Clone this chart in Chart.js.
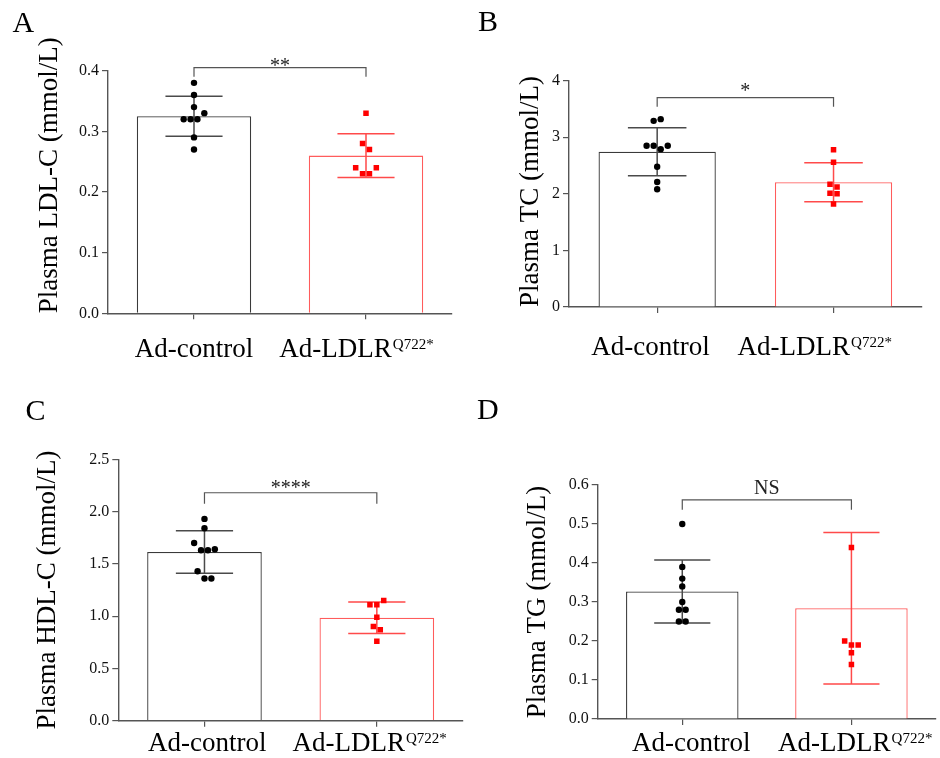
<!DOCTYPE html>
<html>
<head>
<meta charset="utf-8">
<script src="https://cdn.jsdelivr.net/npm/chart.js@4/dist/chart.umd.min.js"></script>
<style>
    body { margin: 0; background: #fff; }
    #wrap { position: relative; width: 940px; height: 758px; overflow: hidden; }
    #wrap canvas { position: absolute; }
</style>
</head>
<body>
<div id="wrap">
    <canvas id="cA" width="470" height="379" style="left:0;top:0"></canvas>
    <canvas id="cB" width="470" height="379" style="left:470px;top:0"></canvas>
    <canvas id="cC" width="470" height="379" style="left:0;top:379px"></canvas>
    <canvas id="cD" width="470" height="379" style="left:470px;top:379px"></canvas>
</div>
<script>
/* ================= DATA ================= */
const groups = ["Ad-control", "Ad-LDLR"];
const groupSup = ["", "Q722*"];

// A – LDL-C
const ldlCtrl = [0.38, 0.36, 0.34, 0.32, 0.32, 0.32, 0.33, 0.29, 0.27];
const ldlMut = [0.33, 0.28, 0.27, 0.24, 0.23, 0.23, 0.24];
const ldlMean = [0.325, 0.26];
const ldlSd = [0.033, 0.036];

// B – TC
const tcCtrl = [3.29, 3.32, 2.85, 2.85, 2.79, 2.85, 2.48, 2.21, 2.08];
const tcMut = [2.78, 2.56, 2.17, 2.12, 2.01, 2.0, 1.82];
const tcMean = [2.745, 2.205];
const tcSd = [0.425, 0.345];

// C – HDL-C
const hdlCtrl = [1.93, 1.84, 1.7, 1.63, 1.63, 1.64, 1.43, 1.36, 1.36];
const hdlMut = [1.11, 1.11, 1.15, 0.99, 0.9, 0.87, 0.76];
const hdlMean = [1.614, 0.985];
const hdlSd = [0.203, 0.15];

// D – TG
const tgCtrl = [0.5, 0.39, 0.36, 0.34, 0.3, 0.28, 0.28, 0.25, 0.25];
const tgMut = [0.44, 0.2, 0.19, 0.19, 0.17, 0.14];
const tgMean = [0.327, 0.284];
const tgSd = [0.081, 0.194];

/* ================= STYLE ================= */
const FONT = "'Liberation Serif', 'Times New Roman', serif";
const AXIS = "#555";
const BAR_BORDER = ["#3a3a3a", "#ff5c5c"];
const ERR_COLOR = ["#4a4a4a", "#ff4a4a"];
const DOT_GAP = 0.04;     // x-units between dots in one row
const CAP_HALF = 0.166;   // x-units, half width of error bar cap

const panels = [
    { canvas: "cA", letter: "A", lx: 12.5, ly: 31.7, title: "Plasma LDL-C (mmol/L)",
      max: 0.4, step: 0.1, dec: 1, ctrl: ldlCtrl, mut: ldlMut, mean: ldlMean, sd: ldlSd,
      sig: "**", brY: 0.405, brDrop: 9, sigDy: 4,
      pad: { top: 70.7, right: 18 }, yW: 108, xH: 65.7, tPad: 34, tAlign: "start",
      labDy: 43.4, labShift: [0, -9.5] },
    { canvas: "cB", letter: "B", lx: 8, ly: 31, title: "Plasma TC (mmol/L)",
      max: 4, step: 1, dec: 0, ctrl: tcCtrl, mut: tcMut, mean: tcMean, sd: tcSd,
      sig: "*", brY: 3.7, brDrop: 9, sigDy: -1,
      pad: { top: 80.7, right: 18.3 }, yW: 99, xH: 72, tPad: 45, tAlign: "start",
      labDy: 48, labShift: [-6.7, -18.8] },
    { canvas: "cC", letter: "C", lx: 25.5, ly: 40.7, title: "Plasma HDL-C (mmol/L)",
      max: 2.5, step: 0.5, dec: 1, ctrl: hdlCtrl, mut: hdlMut, mean: hdlMean, sd: hdlSd,
      sig: "****", brY: 2.18, brDrop: 11, sigDy: 1.6,
      pad: { top: 80.3, right: 7 }, yW: 118.3, xH: 37.3, tPad: 32, tAlign: "center",
      labDy: 30, labShift: [2.7, -7.2] },
    { canvas: "cD", letter: "D", lx: 7, ly: 40, title: "Plasma TG (mmol/L)",
      max: 0.6, step: 0.1, dec: 1, ctrl: tgCtrl, mut: tgMut, mean: tgMean, sd: tgSd,
      sig: "NS", brY: 0.562, brDrop: 10, sigDy: -5.7,
      pad: { top: 106, right: 3.3 }, yW: 127.7, xH: 39, tPad: 52, tAlign: "center",
      labDy: 31.7, labShift: [9, 3.8] }
];

/* ================= SWARM ================= */
// rows of near-equal values are spread sideways, in data order
function swarm(values, center, maxY) {
    const tol = maxY * 0.029;
    const idx = values.map((v, i) => i).sort((a, b) => values[a] - values[b]);
    const rows = [];
    idx.forEach(i => {
        const row = rows[rows.length - 1];
        if (row && values[i] - values[row[0]] <= tol + 1e-9) row.push(i);
        else rows.push([i]);
    });
    const pts = [];
    rows.forEach(row => {
        row.sort((a, b) => a - b);
        row.forEach((i, k) =>
            pts.push({ x: center + (k - (row.length - 1) / 2) * DOT_GAP, y: values[i] })
        );
    });
    return pts;
}

/* ================= PLUGINS ================= */
const errorBars = {
    id: "errorBars",
    afterDatasetDraw(chart, args, opts) {
        if (args.meta.type !== "bar") return;
        const { ctx, scales: { x, y } } = chart;
        ctx.save();
        ctx.lineWidth = 1.5;
        opts.mean.forEach((m, i) => {
            const px = x.getPixelForValue(i);
            const half = x.getPixelForValue(i + CAP_HALF) - px;
            const top = y.getPixelForValue(m + opts.sd[i]);
            const bot = y.getPixelForValue(m - opts.sd[i]);
            ctx.strokeStyle = ERR_COLOR[i];
            ctx.beginPath();
            ctx.moveTo(px, top); ctx.lineTo(px, bot);
            ctx.moveTo(px - half, top); ctx.lineTo(px + half, top);
            ctx.moveTo(px - half, bot); ctx.lineTo(px + half, bot);
            ctx.stroke();
        });
        ctx.restore();
    }
};

const decorations = {
    id: "decorations",
    afterDraw(chart, args, p) {
        const { ctx, chartArea, scales: { x, y } } = chart;
        ctx.save();
        // panel letter
        ctx.fillStyle = "#000";
        ctx.textBaseline = "alphabetic";
        ctx.textAlign = "left";
        ctx.font = `30px ${FONT}`;
        ctx.fillText(p.letter, p.lx, p.ly);

        // significance bracket
        const x0 = x.getPixelForValue(0), x1 = x.getPixelForValue(1);
        const by = y.getPixelForValue(p.brY);
        ctx.strokeStyle = AXIS;
        ctx.lineWidth = 1.2;
        ctx.beginPath();
        ctx.moveTo(x0, by + p.brDrop); ctx.lineTo(x0, by);
        ctx.lineTo(x1, by); ctx.lineTo(x1, by + p.brDrop);
        ctx.stroke();
        ctx.fillStyle = "#222";
        ctx.textAlign = "center";
        ctx.font = `20px ${FONT}`;
        ctx.fillText(p.sig, (x0 + x1) / 2, by + p.sigDy);

        // category labels with superscript
        ctx.fillStyle = "#000";
        ctx.textAlign = "left";
        groups.forEach((g, i) => {
            const cx = x.getPixelForValue(i) + p.labShift[i];
            const base = chartArea.bottom + p.labDy;
            ctx.font = `27px ${FONT}`;
            const w1 = ctx.measureText(g).width;
            ctx.font = `15px ${FONT}`;
            const w2 = groupSup[i] ? ctx.measureText(groupSup[i]).width + 1 : 0;
            const left = cx - (w1 + w2) / 2;
            ctx.font = `27px ${FONT}`;
            ctx.fillText(g, left, base);
            if (groupSup[i]) {
                ctx.font = `15px ${FONT}`;
                ctx.fillText(groupSup[i], left + w1 + 1, base - 8);
            }
        });
        ctx.restore();
    }
};

/* ================= CHARTS ================= */
function buildPanel(p) {
    const ctx = document.getElementById(p.canvas).getContext("2d");
    return new Chart(ctx, {
        type: "bar",
        data: {
            datasets: [
                {
                    type: "bar",
                    order: 2,
                    data: p.mean.map((m, i) => ({ x: i, y: m })),
                    backgroundColor: "#fff",
                    borderColor: BAR_BORDER,
                    borderWidth: 1.3,
                    borderSkipped: "bottom",
                    barPercentage: 0.665,
                    categoryPercentage: 1
                },
                {
                    type: "scatter",
                    order: 1,
                    data: swarm(p.ctrl, 0, p.max),
                    pointStyle: "circle",
                    pointRadius: 3.2,
                    pointBackgroundColor: "#000",
                    pointBorderWidth: 0
                },
                {
                    type: "scatter",
                    order: 1,
                    data: swarm(p.mut, 1, p.max),
                    pointStyle: "rect",
                    pointRadius: 3.9,
                    pointBackgroundColor: "#ff0000",
                    pointBorderWidth: 0
                }
            ]
        },
        options: {
            responsive: false,
            devicePixelRatio: 1,
            animation: false,
            events: [],
            layout: { padding: { top: p.pad.top, right: p.pad.right, left: 0, bottom: 0 } },
            plugins: {
                legend: { display: false },
                tooltip: { enabled: false },
                errorBars: { mean: p.mean, sd: p.sd },
                decorations: p
            },
            scales: {
                x: {
                    type: "linear",
                    min: -0.5,
                    max: 1.5,
                    offset: false,
                    afterBuildTicks: s => { s.ticks = [{ value: 0 }, { value: 1 }]; },
                    afterFit: s => { s.height = p.xH; },
                    ticks: { display: false },
                    grid: { display: true, offset: false, drawOnChartArea: false, tickLength: 6, color: AXIS, lineWidth: 1.2 },
                    border: { display: true, color: AXIS, width: 1.4 }
                },
                y: {
                    min: 0,
                    max: p.max,
                    afterFit: s => { s.width = p.yW; },
                    ticks: {
                        stepSize: p.step,
                        padding: 3,
                        color: "#111",
                        font: { family: FONT, size: 16 },
                        callback: v => Number(v).toFixed(p.dec)
                    },
                    grid: { display: true, drawOnChartArea: false, tickLength: 6, color: AXIS, lineWidth: 1.2 },
                    border: { display: true, color: AXIS, width: 1.4 },
                    title: {
                        display: true,
                        text: p.title,
                        align: p.tAlign,
                        color: "#000",
                        font: { family: FONT, size: 27 },
                        padding: { top: p.tPad, bottom: 0 }
                    }
                }
            }
        },
        plugins: [errorBars, decorations]
    });
}

panels.forEach(buildPanel);
</script>
</body>
</html>
